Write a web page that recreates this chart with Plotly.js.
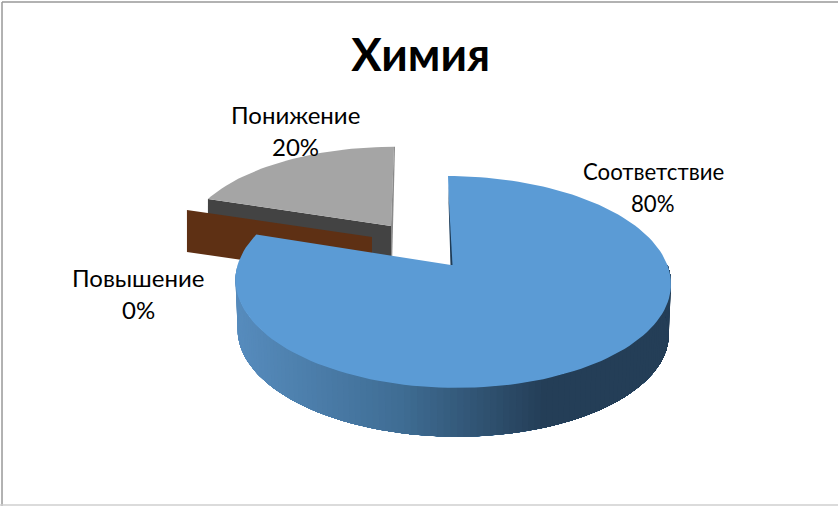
<!DOCTYPE html>
<html><head><meta charset="utf-8">
<script src="https://cdn.plot.ly/plotly-3.0.1.min.js"></script>
<style>html,body{margin:0;padding:0;background:#fff}</style></head>
<body><div id="chart" style="width:838px;height:506px"></div>
<script>
const chartTitle = "Химия";
const categories = ["Соответствие", "Повышение", "Понижение"];
const shares = [80, 0, 20];

const sliceStyle = [
  {top:"#5B9BD5", apex:[451,265], rx:0.995, ry:1,    depth:50, shear:-4.5, dx:1.5},
  {top:"#5E3014", apex:[372,237], rx:0.95,  ry:0.89, depth:42, shear:3,  dx:0},
  {top:"#A5A5A5", apex:[391,226], rx:0.94,  ry:0.89, depth:40, shear:3,  dx:0}
];
const labelPos = [[653,171.5,203.5],[138,277.5,309],[295,114.5,146.5]];
const labelSize = [22.2,24,24];
const R=216, A=103.2, k=0.16;

function pt(st, tDeg, f, dz){
  const t=tDeg*Math.PI/180, v=Math.cos(t), s=1/(1+k*v);
  return [st.apex[0]+st.dx+f*st.rx*R*Math.sin(t)*s+st.shear*v,
          st.apex[1]-f*st.ry*A*v*s+dz];
}
function poly(points,color,name){
  return {type:"scatter",mode:"lines",x:points.map(p=>p[0]),y:points.map(p=>p[1]),
    fill:"toself",fillcolor:color,line:{color:color,width:0},
    hoverinfo:"skip",showlegend:false,name:name};
}
function arc(st,a0,a1,f,dz){
  const n=Math.max(1,Math.ceil(Math.abs(a1-a0)/2)),out=[];
  for(let i=0;i<=n;i++) out.push(pt(st,a0+(a1-a0)*i/n,f,dz));
  return out;
}
function lerp(c1,c2,f){return "rgb("+c1.map((c,i)=>Math.round(c+(c2[i]-c)*f)).join(",")+")";}
function wallColor(x){
  const light=[86,139,188],mid=[63,109,148],dark=[36,62,87];
  if(x<=400) return lerp(light,mid,Math.max(0,(x-240)/160));
  if(x<=545) return lerp(mid,dark,(x-400)/145);
  return lerp(dark,dark,0);
}

const total=shares.reduce((a,b)=>a+b,0);
let acc=0; const ranges=shares.map(v=>{const a0=acc/total*360;acc+=v;return [a0,acc/total*360];});

const traces=[];
{ // grey slice
  const st=sliceStyle[2],[a0,a1]=ranges[2],ap=st.apex,d=st.depth;
  traces.push(poly([pt(st,a0,1,0),ap,[ap[0],ap[1]+d],pt(st,a0,1,d)],"#434343",categories[2]));
  traces.push(poly([ap].concat(arc(st,a0,a1,1,0)),st.top,categories[2]));
  const o=pt(st,a1,1,0);
  traces.push(poly([o,[o[0]+1,o[1]],[ap[0]+1,ap[1]+d],[ap[0],ap[1]+d],ap],"#8A8A8A",categories[2]));
}
{ // zero-share slice: only its cut wall shows
  const st=sliceStyle[1],a0=ranges[1][0],ap=st.apex,d=st.depth;
  traces.push(poly([pt(st,a0,1,0),ap,[ap[0],ap[1]+d],pt(st,a0,1,d)],st.top,categories[1]));
}
{ // blue slice: outer wall painted left to right, each band covering the rest, then top
  const st=sliceStyle[0],[a0,a1]=ranges[0],ap=st.apex,d=st.depth;
  for(let a=270;a>90;a-=1.5){
    const pts=arc(st,a,90,1,0).concat(arc(st,90,a,0.99,d));
    traces.push(poly(pts,wallColor(pt(st,a-0.75,1,0)[0]),categories[0]));
  }
  traces.push(poly([ap].concat(arc(st,a0,a1,1,0)),st.top,categories[0]));
  const o=pt(st,a0,0.9,0);
  traces.push(poly([o,[ap[0]-0.5,ap[1]],[ap[0]+1.5,ap[1]]],"#1F3B55",categories[0]));
}

const annotations=[];
categories.forEach((c,i)=>{
  const f={family:"Lato, Open Sans, sans-serif",size:labelSize[i],color:"#000"};
  annotations.push({x:labelPos[i][0],y:labelPos[i][1],xref:"x",yref:"y",text:c,showarrow:false,font:f});
  annotations.push({x:labelPos[i][0],y:labelPos[i][2],xref:"x",yref:"y",text:shares[i]+"%",showarrow:false,font:f});
});

Plotly.newPlot("chart",traces,{
  width:838,height:506,margin:{l:0,r:0,t:0,b:0},paper_bgcolor:"#fff",plot_bgcolor:"rgba(0,0,0,0)",
  title:{text:"<b>"+chartTitle+"</b>",x:0.502,xanchor:"center",y:0.892,yanchor:"middle",
    font:{family:"Lato, Open Sans, sans-serif",size:45.5,color:"#000"}},
  xaxis:{range:[0,838],visible:false,fixedrange:true},
  yaxis:{range:[506,0],visible:false,fixedrange:true},
  showlegend:false,annotations:annotations,
  shapes:[
    {type:"line",xref:"paper",yref:"paper",x0:0.0024,x1:0.0024,y0:0,y1:0.996,line:{color:"#999999",width:1.5}},
    {type:"line",xref:"paper",yref:"paper",x0:0.0024,x1:1,y0:0.996,y1:0.996,line:{color:"#999999",width:1.5}},
    {type:"line",xref:"paper",yref:"paper",x0:0,x1:1,y0:0.002,y1:0.002,line:{color:"#cfcfcf",width:1.5}}
  ]
},{displayModeBar:false,staticPlot:true});
</script></body></html>
